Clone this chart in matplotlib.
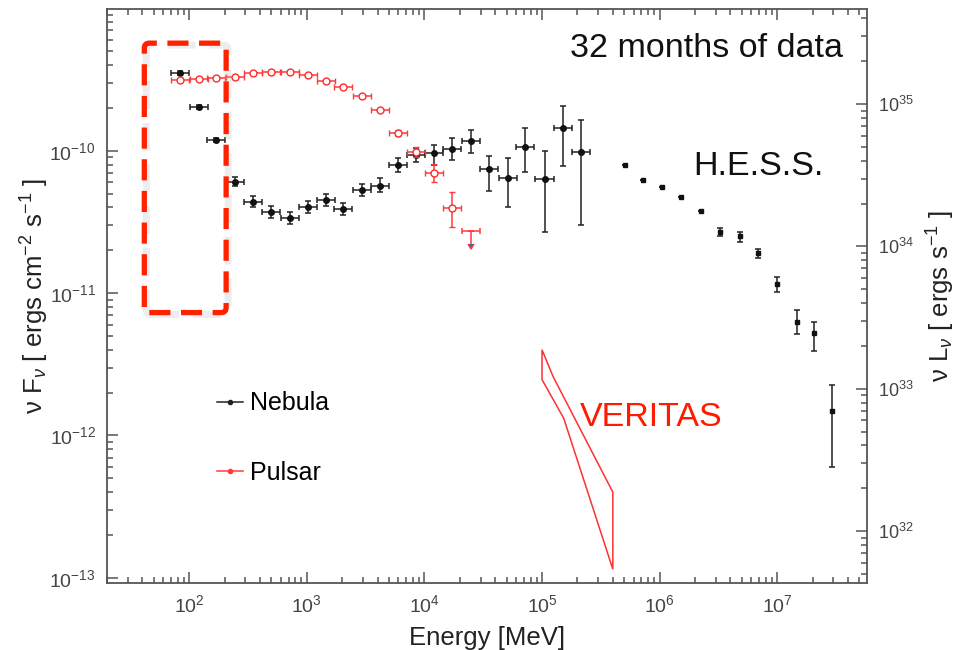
import numpy as np
import matplotlib
matplotlib.use("Agg")
import matplotlib.pyplot as plt
from matplotlib.lines import Line2D
from matplotlib.patches import Polygon, FancyBboxPatch
from matplotlib.transforms import IdentityTransform
from matplotlib.ticker import FixedLocator, NullFormatter, LogLocator

plt.rcParams['font.family'] = ['Liberation Sans', 'DejaVu Sans']
plt.rcParams['mathtext.fontset'] = 'custom'
plt.rcParams['mathtext.rm'] = 'Liberation Sans'
plt.rcParams['mathtext.it'] = 'Liberation Sans:italic'

# ---- data ----
# Fermi nebula, MeV / ergs cm^-2 s^-1
neb_E = [84, 122, 170, 245, 347, 500, 716, 1020, 1450, 2040, 2950, 4200, 5950,
         8500, 1.2e4, 1.73e4, 2.5e4, 3.55e4, 5.1e4, 7.2e4, 1.05e5, 1.5e5, 2.15e5]
neb_F = [3.52e-10, 2.04e-10, 1.19e-10, 6.07e-11, 4.4e-11, 3.7e-11, 3.37e-11, 4.03e-11,
         4.5e-11, 3.9e-11, 5.3e-11, 5.7e-11, 7.97e-11, 9.3e-11, 9.7e-11, 1.03e-10,
         1.17e-10, 7.4e-11, 6.46e-11, 1.07e-10, 6.35e-11, 1.45e-10, 9.8e-11]
neb_lo = [3.40e-10, 1.98e-10, 1.15e-10, 5.7e-11, 4.0e-11, 3.37e-11, 3.07e-11, 3.67e-11,
          4.1e-11, 3.55e-11, 4.82e-11, 5.1e-11, 7.1e-11, 8.3e-11, 8.0e-11, 8.6e-11,
          9.7e-11, 5.2e-11, 4.0e-11, 7.1e-11, 2.7e-11, 7.85e-11, 3.0e-11]
neb_hi = [3.64e-10, 2.10e-10, 1.23e-10, 6.5e-11, 4.8e-11, 4.07e-11, 3.70e-11, 4.43e-11,
          4.95e-11, 4.29e-11, 5.83e-11, 6.4e-11, 8.9e-11, 1.04e-10, 1.10e-10, 1.23e-10,
          1.41e-10, 9.2e-11, 8.9e-11, 1.45e-10, 1.0e-10, 2.07e-10, 1.65e-10]

# Fermi pulsar (same energy bins), last bin is an upper limit
psr_F = [3.15e-10, 3.2e-10, 3.25e-10, 3.3e-10, 3.5e-10, 3.58e-10, 3.58e-10, 3.4e-10,
         3.1e-10, 2.81e-10, 2.43e-10, 1.94e-10, 1.34e-10, 9.85e-11, 7.0e-11, 3.98e-11]
psr_lo = [3.15e-10, 3.2e-10, 3.25e-10, 3.3e-10, 3.5e-10, 3.58e-10, 3.58e-10, 3.4e-10,
          3.1e-10, 2.81e-10, 2.43e-10, 1.94e-10, 1.28e-10, 9.1e-11, 6.0e-11, 2.93e-11]
psr_hi = [3.15e-10, 3.2e-10, 3.25e-10, 3.3e-10, 3.5e-10, 3.58e-10, 3.58e-10, 3.4e-10,
          3.1e-10, 2.81e-10, 2.43e-10, 1.94e-10, 1.40e-10, 1.07e-10, 8.1e-11, 5.1e-11]
psr_ul_E = 2.5e4
psr_ul_F = 2.75e-11
psr_ul_arrow = 0.55e-11

bin_half_dex = 0.077   # half width of the Fermi energy bins

# H.E.S.S.
hess_E = [5.06e5, 7.2e5, 1.05e6, 1.52e6, 2.23e6, 3.24e6, 4.8e6, 6.9e6, 1.0e7,
          1.47e7, 2.04e7, 2.95e7]
hess_F = [7.97e-11, 6.25e-11, 5.58e-11, 4.75e-11, 3.8e-11, 2.7e-11, 2.5e-11, 1.9e-11,
          1.15e-11, 6.3e-12, 5.28e-12, 1.48e-12]
hess_lo = [7.97e-11, 6.25e-11, 5.58e-11, 4.75e-11, 3.8e-11, 2.53e-11, 2.3e-11, 1.76e-11,
           1.02e-11, 5.2e-12, 3.9e-12, 6.05e-13]
hess_hi = [7.97e-11, 6.25e-11, 5.58e-11, 4.75e-11, 3.8e-11, 2.87e-11, 2.7e-11, 2.05e-11,
           1.30e-11, 7.65e-12, 6.3e-12, 2.28e-12]

# VERITAS butterfly outline
ver_E = [1.0e5, 1.24e5, 4.0e5, 4.0e5, 1.53e5, 1.0e5]
ver_F = [4.0e-12, 2.6e-12, 4.0e-13, 1.15e-13, 1.32e-12, 2.47e-12]

L_over_F = 4.7e44     # nu L_nu / nu F_nu
xlim = (20, 5.8e7)
ylim = (9.2e-14, 9.9e-10)
xticks = [1e2, 1e3, 1e4, 1e5, 1e6, 1e7]
yticks = [1e-13, 1e-12, 1e-11, 1e-10]
lticks = [1e32, 1e33, 1e34, 1e35]

# ---- plot ----
fig = plt.figure(figsize=(9.66, 6.5), dpi=100)
ax = fig.add_axes([0.1108, 0.1031, 0.7867, 0.8830])
ax.set_xscale('log')
ax.set_yscale('log')
ax.set_xlim(*xlim)
ax.set_ylim(*ylim)

def errs(E, F, lo, hi):
    E = np.array(E); F = np.array(F)
    xe = [E - E / 10**bin_half_dex, E * 10**bin_half_dex - E]
    ye = [F - np.array(lo), np.array(hi) - F]
    return E, F, xe, ye

E, F, xe, ye = errs(neb_E, neb_F, neb_lo, neb_hi)
ax.errorbar(E, F, xerr=xe, yerr=ye, fmt='o', ms=4, color='#111111', ecolor='#222222',
            elinewidth=1.1, capsize=2.5, capthick=1.1, zorder=3)

E, F, xe, ye = errs(neb_E[:len(psr_F)], psr_F, psr_lo, psr_hi)
ax.errorbar(E, F, xerr=xe, yerr=ye, fmt='o', ms=5, mfc='white', mec='#ff2a2a', mew=1,
            ecolor='#ff3a3a', elinewidth=1.1, capsize=2.5, capthick=1.1, zorder=4)
ax.errorbar([psr_ul_E], [psr_ul_F],
            xerr=[[psr_ul_E - psr_ul_E / 10**bin_half_dex], [psr_ul_E * 10**bin_half_dex - psr_ul_E]],
            yerr=[[psr_ul_arrow], [0]], uplims=True, fmt='none', ecolor='#ff3a3a',
            elinewidth=1.1, capsize=2.5, capthick=1.1, zorder=4)

hF = np.array(hess_F)
ax.errorbar(hess_E, hF, yerr=[hF - np.array(hess_lo), np.array(hess_hi) - hF], fmt='s',
            ms=3.5, color='#111111', ecolor='#222222', elinewidth=1.1, capsize=2.5,
            capthick=1.1, zorder=3)

ax.add_patch(Polygon(np.column_stack([ver_E, ver_F]), closed=True, fill=False,
                     ec='#ff3030', lw=1.1, zorder=3))

# axes styling
gray = '#555555'
ax.xaxis.set_major_locator(FixedLocator(xticks))
ax.yaxis.set_major_locator(FixedLocator(yticks))
ax.xaxis.set_minor_formatter(NullFormatter())
ax.yaxis.set_minor_formatter(NullFormatter())
for s in ax.spines.values():
    s.set_color(gray)
    s.set_linewidth(1.3)
ax.tick_params(which='both', direction='in', top=True, right=False, color=gray,
               labelcolor='#444444', labelsize=14, width=1.1)
ax.tick_params(which='major', length=8, pad=8)
ax.tick_params(which='minor', length=4)

ax2 = ax.twinx()
ax2.set_yscale('log')
ax2.set_ylim(ylim[0] * L_over_F, ylim[1] * L_over_F)
ax2.yaxis.set_major_locator(FixedLocator(lticks))
ax2.yaxis.set_minor_locator(LogLocator(subs=np.arange(2, 10)))
ax2.yaxis.set_minor_formatter(NullFormatter())
for s in ax2.spines.values():
    s.set_visible(False)
ax2.tick_params(which='both', direction='in', color=gray, labelcolor='#444444',
                labelsize=13, width=1.1)
ax2.tick_params(which='major', length=8, pad=8)
ax2.tick_params(which='minor', length=4)

ax.set_xlabel('Energy [MeV]', fontsize=18.5, color='#222222', labelpad=7)
ax.set_ylabel(r'ν F$_{ν}$ [ ergs cm$^{-2}$ s$^{-1}$ ]', fontsize=18.5, color='#222222',
              labelpad=-1)
ax2.set_ylabel(r'ν L$_{ν}$ [ ergs s$^{-1}$ ]', fontsize=18.5, color='#222222', labelpad=8)

# legend
handles = [Line2D([], [], color='#222222', marker='o', ms=3, lw=1.1),
           Line2D([], [], color='#ff3a3a', marker='o', ms=3, lw=1.1)]
ax.legend(handles, ['Nebula', 'Pulsar'], loc='center left', bbox_to_anchor=(0.145, 0.2526),
          frameon=False, fontsize=18, labelspacing=1.82, handlelength=1.05,
          handletextpad=0.25, borderpad=0, borderaxespad=0)

ax.text(0.968, 0.932, '32 months of data', transform=ax.transAxes, ha='right',
        va='center', fontsize=24.5, color='#111111')
ax.text(0.771, 0.7265, 'H.E.S.S.', transform=ax.transAxes, ha='left', va='center',
        fontsize=24.5, color='#111111')
ax.text(0.622, 0.2875, 'VERITAS', transform=ax.transAxes, ha='left', va='center',
        fontsize=24.5, color='#ff1a00')

# red dashed highlight box around the lowest Fermi bins
box_E = (41.5, 206)
box_F = (7.3e-12, 5.7e-10)
(x0, y0), (x1, y1) = ax.transData.transform([(box_E[0], box_F[0]), (box_E[1], box_F[1])])
shadow = FancyBboxPatch((x0 + 2, y0 - 2), x1 - x0, y1 - y0, boxstyle='round,pad=0,rounding_size=5',
                        transform=IdentityTransform(), fill=False, ec='#bbbbbb', alpha=0.25,
                        lw=5, ls=(0, (4, 2)), zorder=5)
box = FancyBboxPatch((x0, y0), x1 - x0, y1 - y0, boxstyle='round,pad=0,rounding_size=5',
                     transform=IdentityTransform(), fill=False, ec='#ff2200', lw=3.8,
                     ls=(0, (4, 2)), zorder=6)
fig.add_artist(shadow)
fig.add_artist(box)

fig.savefig('out.png', dpi=100)
